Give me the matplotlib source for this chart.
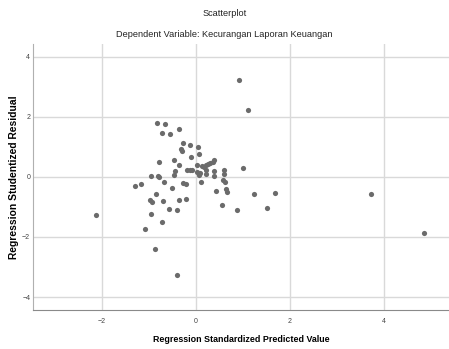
import numpy as np
import matplotlib.pyplot as plt

# standardized predicted value vs studentized residual
pred = [-2.13, -1.28, -1.17, -1.08, -0.95, -0.97, -0.92, -0.87, -0.84, -0.71,
        -0.69, -0.68, -0.56, -0.40, -0.50, -0.36, -0.21, -0.26, -0.21, -0.40,
        -0.96, -0.81, -0.77, -0.46, -0.43, -0.35, -0.78, -0.46, -0.31, -0.28,
        -0.09, -0.27, -0.13, 0.05, 0.07, -0.83, -0.65, -0.71, -0.54, -0.36,
        -0.18, -0.12, -0.08, 0.02, 0.03, 0.09, 0.13, 0.17, 0.22, 0.27,
        0.31, 0.36, 0.40, 0.21, 0.23, 0.38, 0.39, 0.60, 0.60, 0.58,
        0.62, 0.64, 0.66, 0.11, 0.43, 0.57, 0.87, 1.24, 1.69, 1.52,
        3.74, 4.86, 1.01, 0.93, 1.11, 0.07]
resid = [-1.28, -0.30, -0.24, -1.72, -1.23, -0.76, -0.82, -2.41, -0.57, -1.49,
         -0.79, -0.18, -1.07, -1.10, -0.38, -0.78, -0.74, -0.20, -0.22, -3.26,
         0.02, 0.03, -0.01, 0.06, 0.21, 0.39, 0.49, 0.57, 0.92, 0.86,
         0.68, 1.14, 1.07, 1.01, 0.78, 1.80, 1.77, 1.45, 1.42, 1.59,
         0.22, 0.24, 0.22, 0.40, 0.16, 0.12, 0.38, 0.33, 0.40, 0.43,
         0.47, 0.51, 0.56, 0.22, 0.09, 0.21, 0.04, 0.22, 0.11, -0.09,
         -0.18, -0.40, -0.50, -0.18, -0.47, -0.93, -1.10, -0.57, -0.52, -1.02,
         -0.58, -1.86, 0.29, 3.23, 2.24, 0.05]

xticks = [-2, 0, 2, 4]
yticks = [-4, -2, 0, 2, 4]

font = ['Liberation Sans', 'DejaVu Sans']
plt.rcParams['font.family'] = font

fig = plt.figure(figsize=(4.49, 3.49), dpi=100)
ax = fig.add_axes([0.0735, 0.112, 0.9265, 0.762])

ax.scatter(pred, resid, s=14, color='#6b6b6b', linewidths=0, zorder=3)

ax.set_xlim(-3.46, 5.39)
ax.set_ylim(-4.43, 4.43)
ax.set_xticks(xticks)
ax.set_yticks(yticks)
ax.grid(True, color='#d9d9d9', linewidth=1.0)
ax.set_axisbelow(True)

for s in ['top', 'right']:
    ax.spines[s].set_visible(False)
ax.spines['left'].set_color('#b0b0b0')
ax.spines['bottom'].set_color('#8a8a8a')
ax.tick_params(length=0, labelsize=5, labelcolor='#444444')
ax.tick_params(axis='x', pad=6)
ax.tick_params(axis='y', pad=2)

ax.set_xlabel('Regression Standardized Predicted Value', fontsize=6.4,
              fontweight='bold')
ax.xaxis.set_label_coords(0.5, -0.113)
ax.xaxis.label.set_va('center')
ax.set_ylabel('Regression Studentized Residual', fontsize=7.4,
              fontweight='bold')
ax.yaxis.set_label_coords(-0.046, 0.5)
ax.yaxis.label.set_va('center')

fig.text(0.5, 0.962, 'Scatterplot', ha='center', va='center', fontsize=6.6,
         color='#222222')
fig.text(0.5, 0.9, 'Dependent Variable: Kecurangan Laporan Keuangan',
         ha='center', va='center', fontsize=6.6, color='#222222')

fig.savefig('out.png', dpi=100)
